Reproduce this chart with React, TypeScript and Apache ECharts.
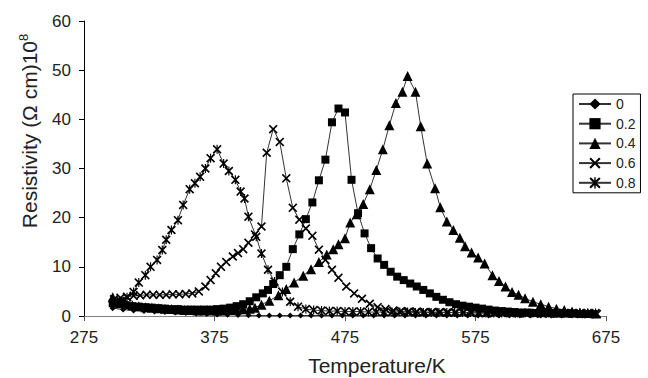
import React, { useEffect, useRef } from "react";
import * as echarts from "echarts";

// ---- data ----
const xTicks = [275, 375, 475, 575, 675];
const yTicks = [0, 10, 20, 30, 40, 50, 60];

const t0 = [297, 305, 313, 321, 329, 337, 345, 353, 361, 369, 377, 385, 393, 401, 409, 417, 425, 433, 441, 449, 457, 465, 473, 481, 489, 497, 505, 513, 521, 529, 537, 545, 553, 561, 569, 577, 585, 593, 601, 609, 617, 625, 633, 641, 649, 657, 665];
const v0 = [1.6, 1.3, 1.1, 1.0, 0.9, 0.8, 0.7, 0.6, 0.5, 0.4, 0.3, 0.25, 0.2, 0.15, 0.1, 0.1, 0.1, 0.1, 0.1, 0.1, 0.1, 0.1, 0.1, 0.1, 0.1, 0.1, 0.1, 0.1, 0.1, 0.1, 0.1, 0.1, 0.1, 0.1, 0.1, 0.1, 0.1, 0.1, 0.1, 0.1, 0.1, 0.1, 0.1, 0.1, 0.1, 0.1, 0.1];

const t02 = [297, 302, 307, 312, 317, 322, 327, 332, 337, 342, 347, 352, 357, 362, 367, 372, 377, 382, 387, 392, 397, 402, 407, 412, 416, 420, 425, 430, 435, 440, 445, 450, 455, 460, 465, 470, 475, 480, 485, 490, 495, 500, 505, 510, 515, 520, 525, 530, 535, 540, 545, 550, 555, 560, 565, 570, 575, 580, 585, 590, 595, 600, 605, 610, 615, 620, 625, 630, 635, 640, 645, 650, 655, 660, 665];
const v02 = [2.6, 2.4, 2.2, 2.0, 1.9, 1.8, 1.7, 1.6, 1.5, 1.4, 1.4, 1.3, 1.3, 1.3, 1.3, 1.3, 1.4, 1.5, 1.7, 2.0, 2.4, 3.0, 3.8, 4.6, 5.3, 6.5, 8.3, 10.0, 13.6, 16.6, 19.7, 23.1, 27.6, 31.8, 39.4, 42.2, 41.4, 27.7, 20.9, 16.8, 13.8, 11.7, 10.4, 9.0, 8.0, 7.3, 6.6, 6.0, 5.3, 4.6, 3.9, 3.3, 2.8, 2.4, 2.1, 1.9, 1.7, 1.5, 1.3, 1.1, 1.0, 0.9, 0.8, 0.7, 0.7, 0.6, 0.6, 0.6, 0.5, 0.5, 0.5, 0.5, 0.4, 0.4, 0.4];

const t04 = [297, 302, 307, 312, 317, 322, 327, 332, 337, 342, 347, 352, 357, 362, 367, 372, 377, 382, 387, 392, 397, 402, 406, 411, 417, 424, 430, 436, 443, 449, 455, 461, 466, 470, 475, 479, 484, 489, 494, 499, 504, 509, 514, 519, 523, 529, 533, 538, 544, 548, 553, 558, 563, 567, 572, 577, 582, 588, 593, 598, 603, 608, 613, 619, 625, 631, 637, 643, 649, 655, 661, 667];
const v04 = [3.8, 3.0, 2.5, 2.2, 2.0, 1.8, 1.7, 1.6, 1.5, 1.4, 1.3, 1.2, 1.2, 1.1, 1.1, 1.1, 1.1, 1.1, 1.2, 1.3, 1.4, 1.5, 1.7, 2.3, 3.1, 4.2, 5.5, 6.8, 8.2, 9.5, 11.0, 12.5, 13.6, 14.6, 15.8, 19.0, 20.7, 22.8, 25.8, 29.7, 33.9, 38.8, 43.3, 45.6, 48.8, 45.6, 38.6, 31.0, 26.0, 22.1, 19.2, 17.5, 15.9, 14.2, 12.9, 11.9, 10.7, 8.3, 7.1, 6.0, 4.9, 4.3, 3.6, 2.9, 2.4, 1.9, 1.5, 1.2, 0.9, 0.7, 0.6, 0.5];

const t06 = [298, 303, 308, 313, 318, 323, 328, 333, 338, 343, 348, 353, 358, 363, 368, 372, 376, 380, 384, 389, 393, 397, 401, 406, 411, 415, 420, 425, 430, 435, 440, 445, 450, 455, 460, 465, 470, 476, 482, 488, 494, 500, 506, 512, 518, 524, 530, 536, 542, 548, 554, 560, 566, 572, 578, 584, 590, 596, 602, 608, 614, 620, 626, 632, 638, 644, 650, 656, 662, 668];
const v06 = [3.4, 3.7, 3.9, 4.1, 4.2, 4.3, 4.3, 4.3, 4.3, 4.4, 4.4, 4.5, 4.6, 5.0, 6.0, 7.3, 8.7, 10.0, 11.0, 12.1, 12.8, 13.6, 14.9, 16.6, 18.2, 33.2, 38.0, 35.4, 28.0, 22.0, 19.6, 17.8, 16.3, 13.5, 11.4, 9.4, 7.8, 6.0, 4.6, 3.5, 2.5, 1.8, 1.4, 1.1, 1.0, 0.9, 0.9, 0.8, 0.8, 0.8, 0.7, 0.7, 0.7, 0.7, 0.6, 0.6, 0.6, 0.6, 0.6, 0.5, 0.5, 0.5, 0.5, 0.5, 0.5, 0.5, 0.5, 0.4, 0.4, 0.4];

const t08 = [298, 303, 308, 313, 317, 322, 326, 331, 335, 338, 342, 347, 351, 356, 360, 364, 368, 372, 377, 382, 386, 391, 395, 398, 401, 407, 411, 416, 421, 427, 433, 439, 445, 451, 457, 463, 469, 475, 481, 487, 493, 499, 505, 511, 517, 523, 529, 535, 541, 547, 553, 559, 565, 571, 577, 583, 589, 595, 601, 607, 613, 619, 625, 631, 637, 643, 649, 655, 661, 667];
const v08 = [2.6, 3.0, 3.8, 4.9, 6.8, 8.3, 10.0, 11.4, 13.4, 15.5, 17.5, 19.5, 22.6, 25.8, 27.0, 28.3, 30.0, 32.1, 33.9, 31.0, 29.5, 27.7, 25.3, 23.9, 20.2, 16.1, 12.7, 9.4, 7.0, 4.9, 2.9, 1.9, 1.4, 1.2, 1.1, 1.0, 1.0, 0.9, 0.9, 0.9, 0.8, 0.8, 0.8, 0.8, 0.8, 0.8, 0.7, 0.7, 0.7, 0.7, 0.7, 0.7, 0.7, 0.7, 0.6, 0.6, 0.6, 0.6, 0.6, 0.6, 0.6, 0.6, 0.6, 0.6, 0.6, 0.6, 0.6, 0.6, 0.6, 0.6];

const seriesNames = ["0", "0.2", "0.4", "0.6", "0.8"];

const pairs = (t: number[], v: number[]) => t.map((x, i) => [x, v[i]]);

const FONT = "'Liberation Sans', Arial, Helvetica, sans-serif";
const CROSS = "path://M0,1.3L1.3,0L5,3.7L8.7,0L10,1.3L6.3,5L10,8.7L8.7,10L5,6.3L1.3,10L0,8.7L3.7,5Z";
const STAR = CROSS + "M4.35,0L5.65,0L5.65,10L4.35,10Z";

export default function App() {
  const ref = useRef<HTMLDivElement>(null);
  useEffect(() => {
    document.body.style.margin = "0";
    if (!ref.current) return;
    const chart = echarts.init(ref.current, undefined, { renderer: "svg" });
    const mk = (name: string, data: number[][], symbol: string, size: number) => ({
      name,
      type: "line",
      data,
      symbol,
      symbolSize: size,
      showSymbol: true,
      lineStyle: { color: "#333", width: 1 },
      itemStyle: { color: "#000" },
      emphasis: { disabled: true },
    });
    chart.setOption({
      animation: false,
      backgroundColor: "#fff",
      grid: { left: 84, right: 42, top: 21, bottom: 62, containLabel: false },
      xAxis: {
        type: "value",
        min: xTicks[0],
        max: xTicks[xTicks.length - 1],
        interval: 100,
        axisLine: { show: true, onZero: false, lineStyle: { color: "#808080", width: 1 } },
        axisTick: { show: true, inside: false, length: 5, lineStyle: { color: "#555" } },
        axisLabel: { fontSize: 17, fontFamily: FONT, color: "#222", margin: 13 },
        splitLine: { show: false },
      },
      yAxis: {
        type: "value",
        min: yTicks[0],
        max: yTicks[yTicks.length - 1],
        interval: 10,
        axisLine: { show: true, lineStyle: { color: "#000", width: 1 } },
        axisTick: { show: true, inside: false, length: 5, lineStyle: { color: "#000" } },
        axisLabel: { fontSize: 17, fontFamily: FONT, color: "#222", margin: 13 },
        splitLine: { show: false },
      },
      legend: {
        orient: "vertical",
        left: 573,
        top: 94,
        padding: [3, 5, 3, 5],
        itemGap: 5.7,
        itemWidth: 32,
        itemHeight: 14,
        borderColor: "#000",
        borderWidth: 1,
        textStyle: { fontSize: 14, fontFamily: FONT, color: "#222" },
        data: seriesNames,
      },
      series: [
        mk(seriesNames[0], pairs(t0, v0), "diamond", 6),
        mk(seriesNames[1], pairs(t02, v02), "rect", 8),
        mk(seriesNames[2], pairs(t04, v04), "triangle", 10),
        mk(seriesNames[3], pairs(t06, v06), CROSS, 9),
        mk(seriesNames[4], pairs(t08, v08), STAR, 9),
      ],
      graphic: [
        {
          type: "text",
          x: 29,
          y: 131,
          rotation: Math.PI / 2,
          style: {
            text: "{a|Resistivity (Ω cm)10}{b|8}",
            rich: {
              a: { fontSize: 21, fontFamily: FONT, fill: "#222" },
              b: { fontSize: 13, fontFamily: FONT, fill: "#222", padding: [0, 0, 12, 0] },
            },
            align: "center",
            verticalAlign: "middle",
          },
        },
        {
          type: "text",
          x: 377,
          y: 365,
          style: {
            text: "Temperature/K",
            fontSize: 21,
            fontFamily: FONT,
            fill: "#222",
            align: "center",
            verticalAlign: "middle",
          },
        },
      ],
    });
    return () => chart.dispose();
  }, []);
  return (
    <div
      ref={ref}
      style={{ position: "absolute", left: 0, top: 0, width: 648, height: 378, background: "#fff" }}
    />
  );
}
